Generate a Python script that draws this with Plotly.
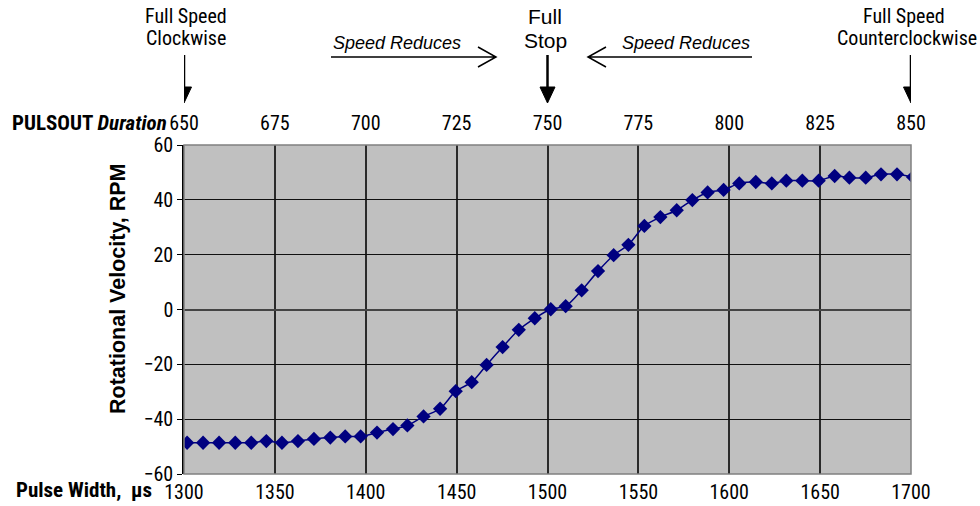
import plotly.graph_objects as go

# Measured servo speed versus pulse width
pulse_width_us = [
    1301.7, 1310.5, 1319.3, 1328.2, 1337.0, 1345.3, 1353.9, 1362.7, 1371.5, 1380.5,
    1388.7, 1397.2, 1406.2, 1415.0, 1422.9, 1431.8, 1440.9, 1449.5, 1458.3, 1466.5,
    1475.3, 1484.2, 1493.0, 1501.8, 1510.0, 1518.8, 1527.8, 1536.4, 1544.5, 1553.3,
    1562.1, 1571.1, 1579.7, 1588.1, 1596.9, 1605.5, 1614.6, 1623.4, 1631.4, 1640.2,
    1649.2, 1658.0, 1666.1, 1675.1, 1683.5, 1692.3, 1701.1,
]
velocity_rpm = [
    -48.6, -48.6, -48.6, -48.6, -48.6, -48.0, -48.6, -48.0, -47.2, -46.7,
    -46.3, -46.3, -44.9, -43.6, -42.3, -39.0, -36.2, -29.8, -26.5, -20.2,
    -13.7, -7.4, -3.2, 0.1, 1.2, 7.0, 14.0, 19.8, 23.6, 30.5,
    33.7, 36.2, 39.9, 42.7, 43.6, 46.0, 46.5, 46.0, 47.0, 47.0,
    47.0, 48.7, 48.1, 48.1, 49.3, 49.3, 48.3,
]

pulse_ticks = [1300, 1350, 1400, 1450, 1500, 1550, 1600, 1650, 1700]
pulsout_ticks = [650, 675, 700, 725, 750, 775, 800, 825, 850]
rpm_ticks = [-60, -40, -20, 0, 20, 40, 60]

NARROW = "Roboto Condensed, Arial Narrow, sans-serif"
SANS = "Liberation Sans, Arial, sans-serif"

W, H = 980, 506
L, R, T, B = 184, 69, 145, 32
PW, PH = W - L - R, H - T - B


def px(x):
    return (x - L) / PW


def py(y):
    return (H - B - y) / PH


fig = go.Figure()

fig.add_trace(go.Scatter(
    x=pulse_width_us, y=velocity_rpm, mode="lines+markers",
    line=dict(color="#000080", width=1.5, shape="spline", smoothing=0.8),
    marker=dict(symbol="diamond", size=11, color="#000080"),
    showlegend=False, hoverinfo="x+y",
))
# companion trace that carries the PULSOUT duration scale on top
fig.add_trace(go.Scatter(
    x=pulsout_ticks, y=[None] * len(pulsout_ticks), xaxis="x2",
    mode="markers", showlegend=False, hoverinfo="skip",
))

anns = []


def text(s, x, y, size, family, xanchor="center", angle=0):
    anns.append(dict(text=s, x=x, y=y, xref="paper", yref="paper",
                     xanchor=xanchor, yanchor="middle", showarrow=False,
                     textangle=angle, font=dict(size=size, family=family, color="black")))


text("Full Speed", px(186), py(16), 20, NARROW)
text("Clockwise", px(186), py(38), 20, NARROW)
text("Full Speed", px(904), py(16), 20, NARROW)
text("Counterclockwise", px(907), py(38), 20, NARROW)
text("Full", px(545), py(16), 21, SANS)
text("Stop", px(545), py(40), 21, SANS)
text("<i>Speed Reduces</i>", px(397), py(43), 18, SANS)
text("<i>Speed Reduces</i>", px(686), py(43), 18, SANS)
text("<b>PULSOUT <i>Duration</i></b>", px(169), py(123), 21, NARROW, xanchor="right")
text("<b>Pulse Width,\u00a0\u00a0µs</b>", px(14), py(490), 21, NARROW, xanchor="left")
text("<b>Rotational Velocity, RPM</b>", px(118), py(289), 21.5, SANS, angle=-90)

shapes = []
# plot frame
shapes.append(dict(type="rect", xref="paper", yref="paper", x0=0, x1=1, y0=0, y1=1,
                   line=dict(color="#808080", width=1.5), layer="above"))

# downward arrows at full speed / full stop positions
head_half = 7.5 * 400 / PW
for xv in (1300, 1500, 1700):
    shapes.append(dict(type="line", xref="x", yref="paper", x0=xv, x1=xv,
                       y0=py(55), y1=py(92), line=dict(color="black", width=2.5)))
    shapes.append(dict(type="path", xref="x", yref="paper",
                       path=f"M {xv - head_half},{py(87)} L {xv + head_half},{py(87)} L {xv},{py(103)} Z",
                       fillcolor="black", line=dict(color="black", width=1)))

# open-headed arrows pointing toward full stop
yl = py(57)
shapes.append(dict(type="path", xref="paper", yref="paper",
                   path=f"M {px(331)},{yl} L {px(496)},{yl} M {px(478)},{py(47)} L {px(496)},{yl} L {px(478)},{py(67)}",
                   line=dict(color="black", width=1.5)))
shapes.append(dict(type="path", xref="paper", yref="paper",
                   path=f"M {px(752)},{yl} L {px(588)},{yl} M {px(606)},{py(47)} L {px(588)},{yl} L {px(606)},{py(67)}",
                   line=dict(color="black", width=1.5)))

tick_font = dict(size=20, family=NARROW, color="black")

fig.update_layout(
    width=W, height=H,
    margin=dict(l=L, r=R, t=T, b=B, pad=0, autoexpand=False),
    paper_bgcolor="white", plot_bgcolor="#C0C0C0",
    annotations=anns, shapes=shapes,
    xaxis=dict(range=[1300, 1700], tickvals=pulse_ticks, ticks="", showline=False,
               showgrid=True, gridcolor="#2a2a2a", gridwidth=1.5, zeroline=False,
               tickfont=tick_font, ticklabelstandoff=4, automargin=False, fixedrange=True),
    xaxis2=dict(range=[650, 850], tickvals=pulsout_ticks, overlaying="x", side="top",
                anchor="y", showgrid=False, zeroline=False, ticks="", showline=False,
                tickfont=tick_font, ticklabelstandoff=10, automargin=False, fixedrange=True),
    yaxis=dict(range=[-60, 60], tickvals=rpm_ticks, ticks="outside", ticklen=5,
               tickcolor="black", showline=True, linecolor="black", linewidth=1.5,
               showgrid=True, gridcolor="#111111", gridwidth=1,
               zeroline=True, zerolinecolor="#444444", zerolinewidth=2,
               tickfont=tick_font, automargin=False, fixedrange=True),
)

fig.write_html("out.html")
